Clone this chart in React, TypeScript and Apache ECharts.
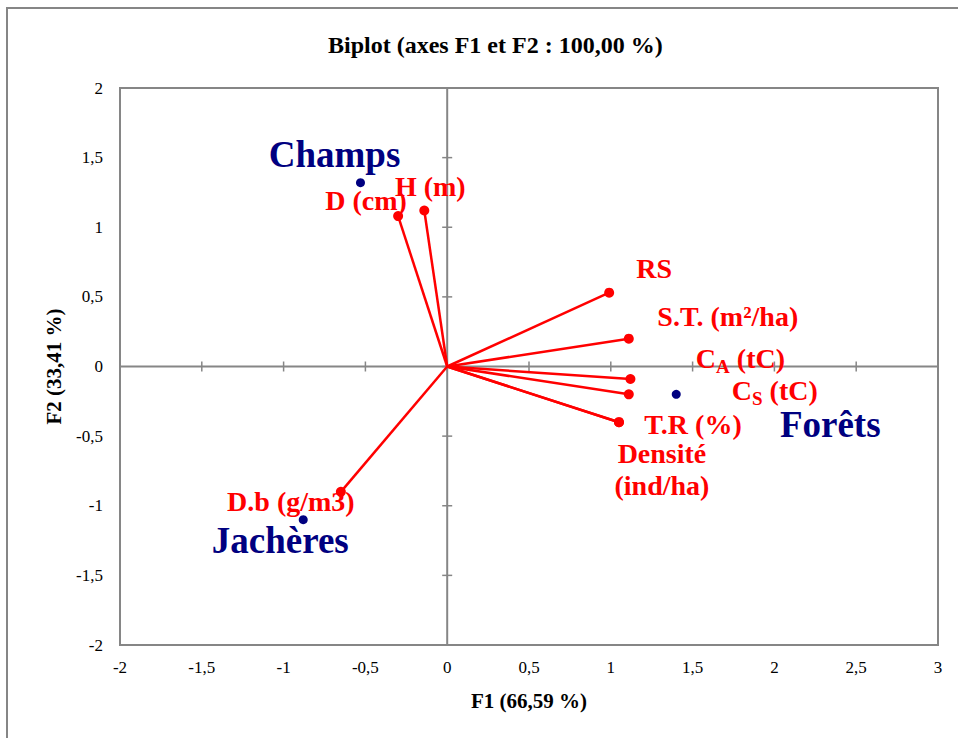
import React, { useEffect, useRef } from "react";
import * as echarts from "echarts";

// Variables (red vectors)
const varNames = ["D (cm)", "H (m)", "RS", "S.T. (m²/ha)", "C_A (tC)", "C_S (tC)", "T.R (%)", "Densité (ind/ha)", "D.b (g/m3)"];
const varF1 = [-0.30, -0.14, 0.99, 1.11, 1.12, 1.11, 1.05, 1.05, -0.65];
const varF2 = [1.08, 1.12, 0.53, 0.20, -0.09, -0.20, -0.40, -0.40, -0.90];

// Observations (navy points)
const obsNames = ["Champs", "Jachères", "Forêts"];
const obsF1 = [-0.53, -0.88, 1.40];
const obsF2 = [1.32, -1.10, -0.20];

// Axis ticks
const xTicks = [-2, -1.5, -1, -0.5, 0, 0.5, 1, 1.5, 2, 2.5, 3];
const yTicks = [-2, -1.5, -1, -0.5, 0, 0.5, 1, 1.5, 2];

// Label display (rich text) and offsets (styles)
const varLabelText: Record<string, string> = {
  "C_A (tC)": "C{sub|A} (tC)",
  "C_S (tC)": "C{sub|S} (tC)",
  "Densité (ind/ha)": "Densité\n(ind/ha)",
};
const varLabelOffset: Record<string, number[]> = {
  "D (cm)": [-32, -16],
  "H (m)": [6, -24],
  "RS": [45, -24],
  "S.T. (m²/ha)": [99, -22],
  "C_A (tC)": [110, -21],
  "C_S (tC)": [146, -4],
  "T.R (%)": [74, 2],
  "Densité (ind/ha)": [43, 47],
  "D.b (g/m3)": [-50, 10],
};
const obsLabelOffset: Record<string, number[]> = {
  "Champs": [-26, -28],
  "Jachères": [-23, 21],
  "Forêts": [154, 30],
};

const FONT = "Liberation Serif";
const RED = "#ff0000";
const NAVY = "#000080";
const GRAY = "#868686";

const fmt = (v: number) => String(v).replace(".", ",");

export default function App() {
  const ref = useRef<HTMLDivElement>(null);
  useEffect(() => {
    document.body.style.margin = "0";
    const chart = echarts.init(ref.current!, undefined, { renderer: "svg" });
    const option: any = {
      animation: false,
      backgroundColor: "#ffffff",
      textStyle: { fontFamily: FONT },
      title: {
        text: "Biplot (axes F1 et F2 : 100,00 %)",
        left: 323,
        top: 28,
        textStyle: { fontFamily: FONT, fontSize: 24, fontWeight: "bold", color: "#000" },
      },
      graphic: [
        {
          type: "rect",
          shape: { x: 7, y: 8, width: 980, height: 760 },
          style: { fill: "none", stroke: GRAY, lineWidth: 2 },
          silent: true,
        },
      ],
      grid: {
        left: 120,
        right: 20,
        top: 88,
        bottom: 93,
        show: true,
        borderColor: GRAY,
        borderWidth: 2,
        backgroundColor: "transparent",
      },
      xAxis: {
        type: "value",
        min: -2,
        max: 3,
        interval: 0.5,
        name: "F1 (66,59 %)",
        nameLocation: "middle",
        nameGap: 45,
        nameTextStyle: { fontFamily: FONT, fontSize: 21, fontWeight: "bold", color: "#000" },
        axisLine: { show: false, onZero: false },
        axisTick: { show: false },
        splitLine: { show: false },
        axisLabel: { fontFamily: FONT, fontSize: 17, color: "#000", margin: 14, formatter: fmt },
      },
      yAxis: {
        type: "value",
        min: -2,
        max: 2,
        interval: 0.5,
        name: "F2 (33,41 %)",
        nameLocation: "middle",
        nameGap: 56,
        nameRotate: 90,
        nameTextStyle: { fontFamily: FONT, fontSize: 21, fontWeight: "bold", color: "#000" },
        axisLine: { show: false, onZero: false },
        axisTick: { show: false },
        splitLine: { show: false },
        axisLabel: { fontFamily: FONT, fontSize: 17, color: "#000", margin: 17, formatter: fmt },
      },
      series: [
        {
          type: "custom",
          coordinateSystem: "cartesian2d",
          silent: true,
          z: 1,
          data: [[0, 0]],
          renderItem: (params: any, api: any) => {
            const children: any[] = [];
            const s = { stroke: GRAY, lineWidth: 2 };
            const a = api.coord([xTicks[0], 0]);
            const b = api.coord([xTicks[xTicks.length - 1], 0]);
            children.push({ type: "line", shape: { x1: a[0], y1: a[1], x2: b[0], y2: b[1] }, style: s });
            const c = api.coord([0, yTicks[0]]);
            const d = api.coord([0, yTicks[yTicks.length - 1]]);
            children.push({ type: "line", shape: { x1: c[0], y1: c[1], x2: d[0], y2: d[1] }, style: s });
            xTicks.forEach((t) => {
              if (t === xTicks[0] || t === xTicks[xTicks.length - 1]) return;
              const p = api.coord([t, 0]);
              children.push({ type: "line", shape: { x1: p[0], y1: p[1] - 5, x2: p[0], y2: p[1] + 5 }, style: { stroke: GRAY, lineWidth: 1.5 } });
            });
            yTicks.forEach((t) => {
              if (t === yTicks[0] || t === yTicks[yTicks.length - 1]) return;
              const p = api.coord([0, t]);
              children.push({ type: "line", shape: { x1: p[0] - 5, y1: p[1], x2: p[0] + 5, y2: p[1] }, style: { stroke: GRAY, lineWidth: 1.5 } });
            });
            return { type: "group", children };
          },
        },
        {
          type: "lines",
          coordinateSystem: "cartesian2d",
          z: 3,
          silent: true,
          lineStyle: { color: RED, width: 2.5, opacity: 1 },
          data: varF1.map((x, i) => ({ coords: [[0, 0], [x, varF2[i]]] })),
        },
        {
          type: "scatter",
          z: 4,
          symbol: "circle",
          symbolSize: 10,
          silent: true,
          emphasis: { disabled: true },
          itemStyle: { color: RED, opacity: 1 },
          data: varF1.map((x, i) => {
            const name = varNames[i];
            return {
              name,
              value: [x, varF2[i]],
              label: {
                show: true,
                position: "inside",
                offset: varLabelOffset[name],
                formatter: varLabelText[name] || name,
                color: RED,
                opacity: 1,
                fontFamily: FONT,
                fontSize: 28,
                fontWeight: "bold",
                lineHeight: 32,
                align: "center",
                verticalAlign: "middle",
                rich: {
                  sub: { fontFamily: FONT, fontSize: 19, fontWeight: "bold", color: RED, padding: [16, 0, 0, 0] },
                },
              },
            };
          }),
        },
        {
          type: "scatter",
          z: 5,
          symbol: "circle",
          symbolSize: 9,
          silent: true,
          emphasis: { disabled: true },
          itemStyle: { color: NAVY, opacity: 1 },
          data: obsF1.map((x, i) => {
            const name = obsNames[i];
            return {
              name,
              value: [x, obsF2[i]],
              label: {
                show: true,
                position: "inside",
                offset: obsLabelOffset[name],
                formatter: name,
                color: NAVY,
                opacity: 1,
                fontFamily: FONT,
                fontSize: 37,
                fontWeight: "bold",
                align: "center",
                verticalAlign: "middle",
              },
            };
          }),
        },
      ],
    };
    chart.setOption(option);
    return () => chart.dispose();
  }, []);
  return <div ref={ref} style={{ width: 958, height: 738 }} />;
}
